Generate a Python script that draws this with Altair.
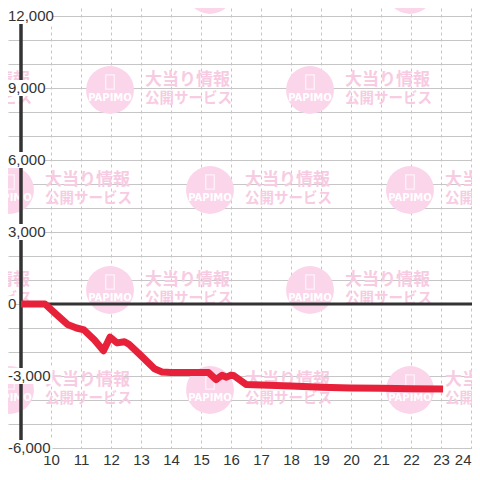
import altair as alt
import pandas as pd

# ---- data ----
hours = [9.0, 9.8, 10.15, 10.55, 10.85, 11.1, 11.45, 11.75, 11.97, 12.2, 12.45, 12.6,
         13.0, 13.45, 13.7, 14.0, 15.25, 15.5, 15.7, 15.85, 16.0, 16.1, 16.5, 17.0,
         18.0, 19.0, 20.0, 21.0, 22.0, 23.07]
balance = [0, 0, -400, -850, -1000, -1080, -1500, -1950, -1380, -1620, -1570, -1680,
           -2150, -2700, -2830, -2850, -2850, -3150, -2970, -3050, -2960, -2990, -3350, -3380,
           -3420, -3470, -3500, -3510, -3530, -3540]

x_ticks = list(range(10, 25))
y_label_values = [-6000, -3000, 0, 3000, 6000, 9000, 12000]
y_grid_values = list(range(-6000, 13000, 1000))

wm_line1 = "大当り情報"
wm_line2 = "公開サービス"
wm_logo = "PAPIMO"

# ---- layout / style ----
X_MIN, X_MAX = 8.5667, 24.0333
Y_MIN, Y_MAX = -6000, 12333.3
RED = "#e8213b"
DARK = "#333333"
GRID = "#c6c6c6"
PINK = "#fbd5ea"
PINK_TEXT = "#f7cce2"
NUM_FONT = "Liberation Sans"


def px_to_x(px):
    return 9 + (px - 21) / 30.0


def py_to_y(py):
    return (304 - py) * 1000 / 24.0


xscale = alt.Scale(domain=[X_MIN, X_MAX], nice=False, zero=False)
yscale = alt.Scale(domain=[Y_MIN, Y_MAX], nice=False, zero=False)

x_axis = alt.Axis(values=x_ticks, grid=True, gridDash=[3, 3], gridColor=GRID,
                  gridWidth=1, domain=False, ticks=False, labelFontSize=15,
                  labelColor=DARK, labelFont=NUM_FONT, labelPadding=4,
                  labelFlush=2, labelOverlap=False, labelBound=False)
y_axis = alt.Axis(values=y_grid_values, grid=True, gridColor=GRID, gridWidth=1.2,
                  domain=False, ticks=False, labels=False)

X = alt.X("h:Q", scale=xscale, title=None, axis=x_axis)
Y = alt.Y("v:Q", scale=yscale, title=None, axis=y_axis)

df_line = pd.DataFrame({"h": hours, "v": balance})

# watermark tile centres (decorative background pattern)
wm_rows = [-10, 90, 190, 290, 390, 490]
wm_pts = []
for i, py in enumerate(wm_rows):
    cols = [10, 210, 410] if i % 2 == 0 else [-90, 110, 310, 510]
    for px in cols:
        wm_pts.append({"h": px_to_x(px), "v": py_to_y(py)})
df_wm = pd.DataFrame(wm_pts)

wm_circles = alt.Chart(df_wm).mark_circle(size=2290, color=PINK, opacity=1).encode(x=X, y=Y)
wm_phone = alt.Chart(df_wm).mark_point(
    shape="M-0.6,-1L0.6,-1L0.6,1L-0.6,1Z", size=200, filled=False,
    stroke="white", strokeWidth=1.3, yOffset=-8).encode(x=X, y=Y)
wm_logo_t = alt.Chart(df_wm).mark_text(
    text=wm_logo, dy=8, fontSize=10, fontWeight="bold", color="white",
    font="DejaVu Sans").encode(x=X, y=Y)
wm_t1 = alt.Chart(df_wm).mark_text(
    text=wm_line1, align="left", baseline="middle", dx=35, dy=-10, fontSize=17,
    fontWeight="bold", font="Noto Sans CJK JP", color=PINK_TEXT).encode(x=X, y=Y)
wm_t2 = alt.Chart(df_wm).mark_text(
    text=wm_line2, align="left", baseline="middle", dx=35, dy=9, fontSize=14.5,
    fontWeight="bold", font="Noto Sans CJK JP", color=PINK_TEXT).encode(x=X, y=Y)

df_yaxis = pd.DataFrame({"h": [9.0], "v": [Y_MIN], "v2": [12000]})
y_axis_line = alt.Chart(df_yaxis).mark_rule(color=DARK, strokeWidth=3.5).encode(
    x=X, y=Y, y2="v2:Q")

df_zero = pd.DataFrame({"h": [9.0], "h2": [X_MAX], "v": [0]})
zero_line = alt.Chart(df_zero).mark_rule(color=DARK, strokeWidth=3).encode(
    x=X, x2="h2:Q", y=Y)

data_line = alt.Chart(df_line).mark_line(
    color=RED, strokeWidth=7, strokeJoin="round").encode(x=X, y=Y)

labels = [f"{v:,}" for v in y_label_values]
df_lab = pd.DataFrame({
    "h": [X_MIN] * len(labels),
    "h2": [X_MIN + 7.4 * len(s) / 30.0 for s in labels],
    "v": y_label_values,
    "lo": [v - 330 for v in y_label_values],
    "hi": [v + 330 for v in y_label_values],
    "t": labels,
})
lab_box = alt.Chart(df_lab).mark_rect(color="white").encode(
    x=X, x2="h2:Q", y=alt.Y("lo:Q", scale=yscale, title=None, axis=y_axis), y2="hi:Q")
lab_text = alt.Chart(df_lab).mark_text(
    align="left", baseline="middle", fontSize=15, color=DARK, font=NUM_FONT).encode(
    x=X, y=Y, text="t:N")

chart = alt.layer(
    wm_circles, wm_phone, wm_logo_t, wm_t1, wm_t2,
    y_axis_line, zero_line, data_line, lab_box, lab_text
).properties(
    width=464, height=440,
    autosize=alt.AutoSizeParams(type="none"),
    padding={"left": 0, "top": 0, "right": 0, "bottom": 18},
).configure_view(stroke=None).configure_axis(labelOverlap=False)

chart.save("out.html", embed_options={"renderer": "svg", "actions": False})
